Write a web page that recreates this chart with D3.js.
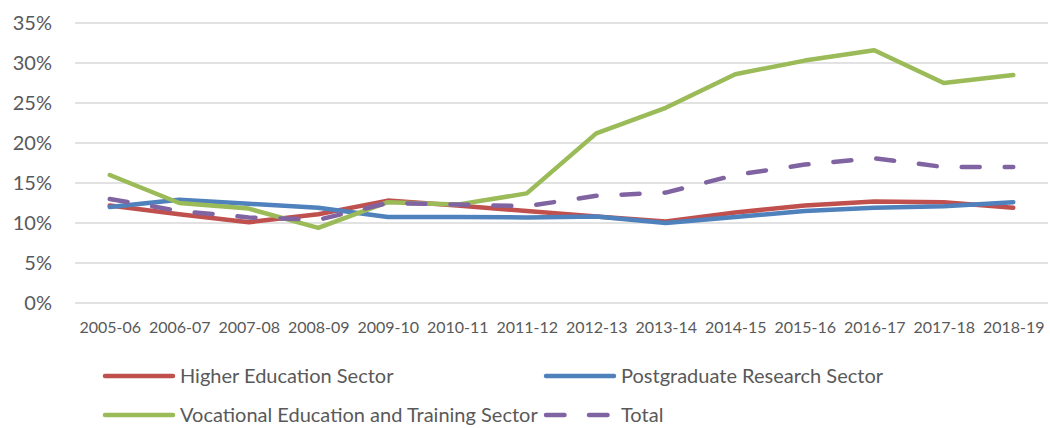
<!DOCTYPE html>
<html>
<head>
<meta charset="utf-8">
<script src="https://cdn.jsdelivr.net/npm/d3@7"></script>
<style>
    body { margin: 0; background: white; }
    svg { display: block; font-family: Lato, "Open Sans", sans-serif; }
</style>
</head>
<body>
<svg id="chart"></svg>
<script>
// academic years on x axis
const years = ["2005-06", "2006-07", "2007-08", "2008-09", "2009-10", "2010-11", "2011-12",
    "2012-13", "2013-14", "2014-15", "2015-16", "2016-17", "2017-18", "2018-19"];

// values in percent
const higherEd = [12.2, 11.1, 10.1, 11.1, 12.8, 12.2, 11.5, 10.8, 10.2, 11.3, 12.2, 12.7, 12.6, 11.9];
const postgrad = [12.0, 12.9, 12.4, 11.9, 10.75, 10.75, 10.7, 10.8, 10.0, 10.75, 11.5, 11.9, 12.1, 12.6];
const vocational = [16.0, 12.5, 11.8, 9.4, 12.6, 12.3, 13.7, 21.2, 24.4, 28.6, 30.3, 31.6, 27.5, 28.5];
const total = [13.0, 11.5, 10.7, 10.4, 12.5, 12.3, 12.1, 13.4, 13.8, 16.0, 17.3, 18.1, 17.0, 17.0];

const yTicks = [0, 5, 10, 15, 20, 25, 30, 35];

const series = [
    { name: "Higher Education Sector", values: higherEd, color: "#C0504D", dash: null },
    { name: "Postgraduate Research Sector", values: postgrad, color: "#4F81BD", dash: null },
    { name: "Vocational Education and Training Sector", values: vocational, color: "#9BBB59", dash: null },
    { name: "Total", values: total, color: "#8064A2", dash: "18,25" }
];

const width = 1050;
const height = 428;
const plot = { left: 75, right: 1048, top: 23, bottom: 303 };

const svg = d3.select("#chart")
    .attr("width", width)
    .attr("height", height);

const xScale = d3.scalePoint()
    .domain(years)
    .range([plot.left, plot.right])
    .padding(0.5);

const yScale = d3.scaleLinear()
    .domain([0, 35])
    .range([plot.bottom, plot.top]);

// horizontal gridlines
svg.append("g")
    .selectAll("line")
    .data(yTicks)
    .enter()
    .append("line")
    .attr("x1", plot.left)
    .attr("x2", plot.right)
    .attr("y1", d => yScale(d))
    .attr("y2", d => yScale(d))
    .style("stroke", "#D9D9D9")
    .style("stroke-width", 1.5);

// y axis labels
const yAxis = d3.axisLeft(yScale)
    .tickValues(yTicks)
    .tickSize(0)
    .tickPadding(0)
    .tickFormat(d => d + "%");

const yAxisGroup = svg.append("g")
    .attr("transform", "translate(52,0)");
yAxis(yAxisGroup);
yAxisGroup.select(".domain").remove();
yAxisGroup.selectAll("text")
    .style("font-family", "Lato, 'Open Sans', sans-serif")
    .style("font-size", "20px")
    .style("fill", "#595959");

// x axis labels
const xAxis = d3.axisBottom(xScale)
    .tickSize(0)
    .tickPadding(0);

const xAxisGroup = svg.append("g")
    .attr("transform", `translate(0,${plot.bottom})`);
xAxis(xAxisGroup);
xAxisGroup.select(".domain").remove();
xAxisGroup.selectAll("text")
    .attr("dy", null)
    .attr("y", 30)
    .style("font-family", "Lato, 'Open Sans', sans-serif")
    .style("font-size", "16px")
    .style("fill", "#595959");

// lines
const line = d3.line()
    .x((d, i) => xScale(years[i]))
    .y(d => yScale(d));

svg.append("g")
    .selectAll("path")
    .data(series)
    .enter()
    .append("path")
    .attr("d", d => line(d.values))
    .style("fill", "none")
    .style("stroke", d => d.color)
    .style("stroke-width", 4.5)
    .style("stroke-linejoin", "round")
    .style("stroke-linecap", "round")
    .style("stroke-dasharray", d => d.dash);

// legend (2 columns x 2 rows)
const legendPos = [
    { x: 103, y: 376 },
    { x: 544, y: 376 },
    { x: 103, y: 415 },
    { x: 544, y: 415 }
];

const legend = svg.append("g")
    .selectAll("g")
    .data(series)
    .enter()
    .append("g")
    .attr("transform", (d, i) => `translate(${legendPos[i].x},${legendPos[i].y})`);

legend.append("line")
    .attr("x1", 2)
    .attr("x2", 70)
    .attr("y1", 0)
    .attr("y2", 0)
    .style("stroke", d => d.color)
    .style("stroke-width", 4.5)
    .style("stroke-linecap", "round")
    .style("stroke-dasharray", d => d.dash ? "18.5,24.5" : null);

legend.append("text")
    .attr("x", 77)
    .attr("y", 7)
    .style("font-size", "20px")
    .style("fill", "#595959")
    .text(d => d.name);
</script>
</body>
</html>
